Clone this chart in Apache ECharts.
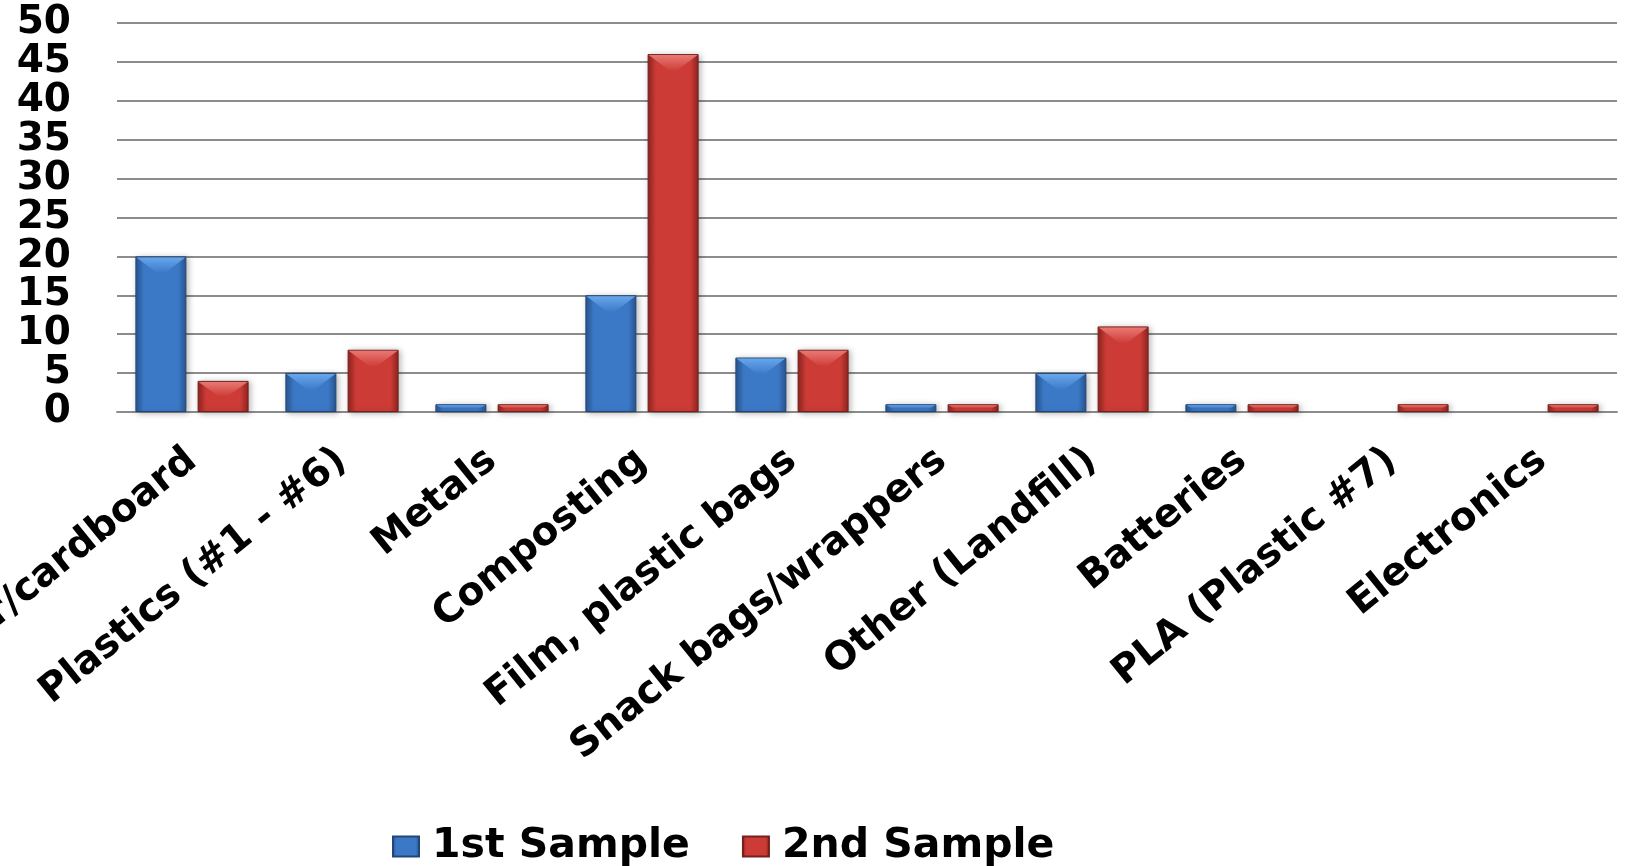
<!DOCTYPE html>
<html>
<head>
<meta charset="utf-8">
<title>Waste sort samples</title>
<script src="https://cdn.jsdelivr.net/npm/echarts@6/dist/echarts.min.js"></script>
<style>
  html, body { margin: 0; padding: 0; background: #ffffff; }
  #chart { width: 1625px; height: 866px; }
</style>
</head>
<body>
<div id="chart"></div>
<script>
// Waste categories and counts for the two sorting samples
const categories = [
  'Paper/cardboard', 'Plastics (#1 - #6)', 'Metals', 'Composting',
  'Film, plastic bags', 'Snack bags/wrappers', 'Other (Landfill)',
  'Batteries', 'PLA (Plastic #7)', 'Electronics'
];
const sample1 = [20, 5, 1, 15, 7, 1, 5, 1, 0, 0];
const sample2 = [4, 8, 1, 46, 8, 1, 11, 1, 1, 1];
const seriesNames = ['1st Sample', '2nd Sample'];
const yTicks = { min: 0, max: 50, step: 5 };

const FONT = 'DejaVu Sans';
const BAR_RATIO = 0.34;   // bar width as share of the category band
const GAP_RATIO = 0.22;   // gap between paired bars as share of bar width

const palette = [
  { edge: '#28558f', mid: '#3b78c6', light: '#6fb0f2', border: '#22467a' },
  { edge: '#8e2420', mid: '#cc3b36', light: '#f0847f', border: '#74201c' }
];

function bodyGradient(p) {
  return new echarts.graphic.LinearGradient(0, 0, 1, 0, [
    { offset: 0, color: p.edge },
    { offset: 0.16, color: p.mid },
    { offset: 0.5, color: p.mid },
    { offset: 0.84, color: p.mid },
    { offset: 1, color: p.edge }
  ]);
}

// Light bevel on the top face of each bar, placed with the category scale
function bevel(seriesIdx) {
  const p = palette[seriesIdx];
  return function (params, api) {
    const v = api.value(1);
    if (!v) return;
    const cat = api.value(0);
    const top = api.coord([cat, v]);
    const base = api.coord([cat, 0]);
    const band = api.size([1, 0])[0];
    const w = band * BAR_RATIO;
    const gap = w * GAP_RATIO;
    const cx = top[0] + (seriesIdx === 0 ? -1 : 1) * (w + gap) / 2;
    const x0 = cx - w / 2 + 1, x1 = cx + w / 2 - 1;
    const h = base[1] - top[1];
    const d = Math.min(17, h * 0.5);
    const inset = Math.min(w * 0.42, d * 1.3);
    return {
      type: 'polygon',
      shape: { points: [[x0, top[1] + 1], [x1, top[1] + 1], [x1 - inset, top[1] + d], [x0 + inset, top[1] + d]] },
      style: {
        fill: new echarts.graphic.LinearGradient(0, 0, 0, 1, [
          { offset: 0, color: p.light },
          { offset: 1, color: p.mid }
        ]),
        opacity: 0.85
      },
      silent: true
    };
  };
}

const values = [sample1, sample2];

const barSeries = values.map((vals, i) => ({
  name: seriesNames[i],
  type: 'bar',
  // an empty count gets no outline or shadow
  data: vals.map(v => v ? v : { value: v, itemStyle: { borderWidth: 0, shadowBlur: 0, opacity: 0 } }),
  barWidth: (BAR_RATIO * 100) + '%',
  barGap: (GAP_RATIO * 100) + '%',
  itemStyle: {
    color: bodyGradient(palette[i]),
    borderColor: palette[i].border,
    borderWidth: 1,
    shadowColor: 'rgba(0,0,0,0.28)',
    shadowBlur: 6,
    shadowOffsetX: 2,
    shadowOffsetY: 1
  },
  emphasis: { disabled: true },
  z: 2
}));

const bevelSeries = values.map((vals, i) => ({
  name: 'bevel' + i,
  type: 'custom',
  renderItem: bevel(i),
  data: vals.map((v, k) => [k, v]),
  encode: { x: 0, y: 1 },
  z: 3,
  silent: true
}));

const chart = echarts.init(document.getElementById('chart'), null, { renderer: 'canvas' });
chart.setOption({
  backgroundColor: '#ffffff',
  animation: false,
  grid: { left: 117, right: 8, top: 23, bottom: 454, outerBoundsMode: 'none', containLabel: false },
  legend: {
    data: seriesNames,
    left: 387,
    top: 821,
    icon: 'rect',
    itemWidth: 26,
    itemHeight: 20,
    itemGap: 52,
    textStyle: { fontFamily: FONT, fontWeight: 'bold', fontSize: 41, color: '#000000', padding: [0, 0, 0, 8] }
  },
  xAxis: {
    type: 'category',
    data: categories,
    axisLine: { show: true, lineStyle: { color: '#8c8c8c', width: 2 } },
    axisTick: { show: false },
    axisLabel: {
      interval: 0,
      rotate: 39,
      margin: 44,
      fontFamily: FONT,
      fontWeight: 'bold',
      fontSize: 39,
      color: '#000000'
    }
  },
  yAxis: {
    type: 'value',
    min: yTicks.min,
    max: yTicks.max,
    interval: yTicks.step,
    axisLine: { show: false },
    axisTick: { show: false },
    splitLine: { lineStyle: { color: '#8c8c8c', width: 2 } },
    axisLabel: {
      margin: 46,
      showMinLabel: true,
      showMaxLabel: true,
      hideOverlap: false,
      fontFamily: FONT,
      fontWeight: 'bold',
      fontSize: 39,
      lineHeight: 36,
      color: '#000000'
    }
  },
  series: barSeries.concat(bevelSeries)
});
</script>
</body>
</html>
